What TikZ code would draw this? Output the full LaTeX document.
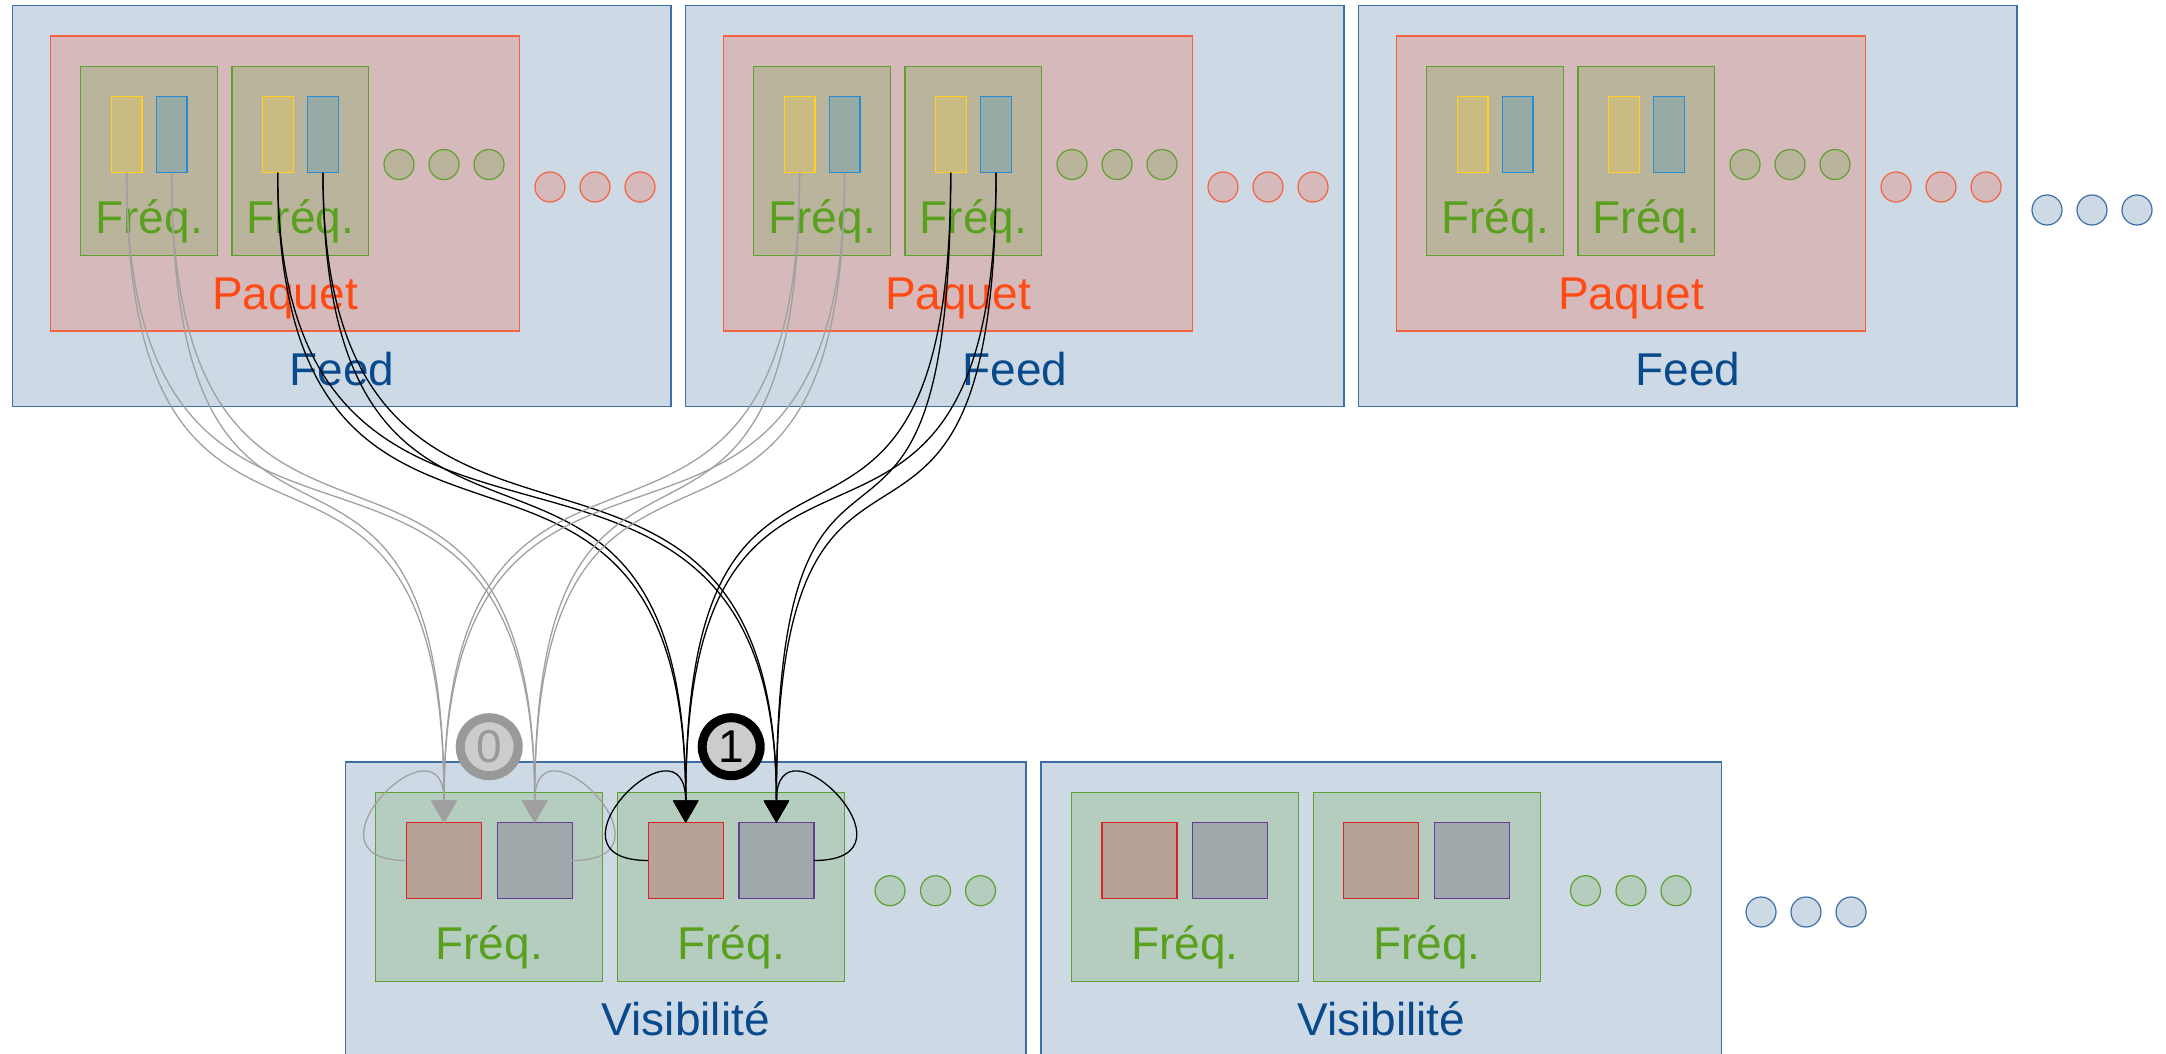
\documentclass[tikz,border=0pt]{standalone}
\usepackage{fontspec}
\setmainfont{Liberation Sans}
\usetikzlibrary{arrows.meta}

% palette
\definecolor{feedfill}{RGB}{205,218,230}
\definecolor{feedline}{RGB}{62,110,168}
\definecolor{feedtext}{RGB}{8,74,140}
\definecolor{paqfill}{RGB}{214,185,186}
\definecolor{paqline}{RGB}{244,98,64}
\definecolor{paqtext}{RGB}{255,74,20}
\definecolor{fqtopfill}{RGB}{187,180,156}
\definecolor{fqbotfill}{RGB}{180,205,190}
\definecolor{grnline}{RGB}{96,160,48}
\definecolor{grntext}{RGB}{88,160,30}
\definecolor{ybarfill}{RGB}{201,187,130}
\definecolor{ybarline}{RGB}{255,208,30}
\definecolor{bbarfill}{RGB}{150,170,166}
\definecolor{bbarline}{RGB}{40,140,208}
\definecolor{redfill}{RGB}{182,162,150}
\definecolor{redline}{RGB}{222,30,40}
\definecolor{purpfill}{RGB}{159,169,171}
\definecolor{purpline}{RGB}{100,62,150}
\definecolor{wiregray}{RGB}{160,160,160}
\definecolor{badgefill}{RGB}{204,204,204}
\definecolor{badgegray}{RGB}{153,153,153}

\newcommand\lblfont{\fontsize{46}{52}\selectfont}

\begin{document}
\begin{tikzpicture}[x=1pt,y=-1pt,
  shp/.style={rectangle,inner sep=0pt,outer sep=0pt},
  feedbox/.style={shp,draw=feedline,fill=feedfill,line width=1.5pt},
  paqbox/.style={shp,draw=paqline,fill=paqfill,line width=1.5pt},
  fqtop/.style={shp,draw=grnline,fill=fqtopfill,line width=1.2pt,minimum width=136.7pt,minimum height=189.4pt},
  fqbot/.style={shp,draw=grnline,fill=fqbotfill,line width=1.2pt,minimum width=226.8pt,minimum height=189pt},
  ybar/.style={shp,draw=ybarline,fill=ybarfill,line width=1.2pt,minimum width=30.8pt,minimum height=76.4pt},
  bbar/.style={shp,draw=bbarline,fill=bbarfill,line width=1.2pt,minimum width=30.8pt,minimum height=76.4pt},
  redsq/.style={shp,draw=redline,fill=redfill,line width=1.2pt,minimum width=75pt,minimum height=75.6pt},
  purpsq/.style={shp,draw=purpline,fill=purpfill,line width=1.2pt,minimum width=75pt,minimum height=75.6pt},
  dot/.style={circle,inner sep=0pt,minimum size=30pt,line width=1.2pt},
  grndotA/.style={dot,draw=grnline,fill=fqtopfill},
  grndotB/.style={dot,draw=grnline,fill=fqbotfill},
  reddot/.style={dot,draw=paqline,fill=paqfill},
  bluedot/.style={dot,draw=feedline,fill=feedfill},
  lbl/.style={inner sep=0pt,anchor=base,font=\lblfont},
  feedlbl/.style={lbl,text=feedtext},
  paqlbl/.style={lbl,text=paqtext},
  fqlbl/.style={lbl,text=grntext},
  tip/.style={-{Triangle[width=25pt,length=22pt]}},
  gwire/.style={draw=wiregray,line width=1.3pt,tip},
  kwire/.style={draw=black,line width=1.3pt,tip},
  badge/.style={circle,inner sep=0pt,minimum size=58pt,line width=9pt,fill=badgefill,font=\lblfont}
]
\useasboundingbox (0,0) rectangle (2166,1054);
\clip (0,0) rectangle (2166,1054);

% ---- feeds, packets and frequency blocks along the top row
\foreach \i in {0,1,2}{
  \pgfmathsetmacro\L{12.5+673*\i}
  \node[feedbox,minimum width=658.5pt,minimum height=400.8pt] (feed\i) at (\L+329.25,206.1) {};
  \node[paqbox,minimum width=469pt,minimum height=295pt] (paq\i) at (\L+272.5,183.5) {};
  \node[fqtop] (fqa\i) at (\L+136.65,161) {};
  \node[fqtop] (fqb\i) at (\L+287.85,161) {};
  \node[ybar] (ya\i) at (\L+114.1,134.5) {};
  \node[bbar] (ba\i) at (\L+159.1,134.5) {};
  \node[ybar] (yb\i) at (\L+265.2,134.5) {};
  \node[bbar] (bb\i) at (\L+310.5,134.5) {};
  \node[fqlbl] (fqalbl\i) at (\L+136.65,233) {Fréq.};
  \node[fqlbl] (fqblbl\i) at (\L+287.85,233) {Fréq.};
  \node[grndotA] (gd\i a) at (\L+386.5,164.5) {};
  \node[grndotA] (gd\i b) at (\L+431.5,164.5) {};
  \node[grndotA] (gd\i c) at (\L+476.5,164.5) {};
  \node[reddot] (rd\i a) at (\L+537.5,187) {};
  \node[reddot] (rd\i b) at (\L+582.5,187) {};
  \node[reddot] (rd\i c) at (\L+627.5,187) {};
  \node[paqlbl] (paqlbl\i) at (\L+272.5,309) {Paquet};
  \node[feedlbl] (feedlbl\i) at (\L+329.25,385) {Feed};
}
\node[bluedot] (tdot1) at (2047,210) {};
\node[bluedot] (tdot2) at (2092,210) {};
\node[bluedot] (tdot3) at (2137,210) {};

% ---- visibility blocks along the bottom row
\foreach \j in {0,1}{
  \pgfmathsetmacro\M{345.5+695.5*\j}
  \node[feedbox,minimum width=680.5pt,minimum height=300pt] (vis\j) at (\M+340.25,912) {};
  \node[fqbot] (vfa\j) at (\M+143.7,886.8) {};
  \node[fqbot] (vfb\j) at (\M+385.7,886.8) {};
  \node[redsq] (ra\j) at (\M+98.5,860.5) {};
  \node[purpsq] (pa\j) at (\M+189.2,860.5) {};
  \node[redsq] (rb\j) at (\M+340.2,860.5) {};
  \node[purpsq] (pb\j) at (\M+430.9,860.5) {};
  \node[fqlbl] (vfalbl\j) at (\M+143.7,959.3) {Fréq.};
  \node[fqlbl] (vfblbl\j) at (\M+385.7,959.3) {Fréq.};
  \node[grndotB] (vg\j a) at (\M+544.5,890.7) {};
  \node[grndotB] (vg\j b) at (\M+590,890.7) {};
  \node[grndotB] (vg\j c) at (\M+635,890.7) {};
  \node[feedlbl] (vislbl\j) at (\M+340.25,1035) {Visibilité};
}
\node[bluedot] (bdot1) at (1761,912) {};
\node[bluedot] (bdot2) at (1806,912) {};
\node[bluedot] (bdot3) at (1851,912) {};

% ---- self loops on the first visibility block
\draw[gwire] (ra0.west) .. controls +(-115,0) and +(0,-115) .. (ra0.north);
\draw[gwire] (pa0.east) .. controls +(115,0) and +(0,-115) .. (pa0.north);
\draw[kwire] (rb0.west) .. controls +(-115,0) and +(0,-115) .. (rb0.north);
\draw[kwire] (pb0.east) .. controls +(115,0) and +(0,-115) .. (pb0.north);

% ---- every bar of a frequency feeds both squares of the matching frequency
\foreach \i in {0,1}{
  \foreach \src in {y,b}{
    \foreach \dst in {r,p}{
      \draw[gwire] (\src a\i.south) .. controls +(0,500) and +(0,-500) .. (\dst a0.north);
      \draw[kwire] (\src b\i.south) .. controls +(0,500) and +(0,-500) .. (\dst b0.north);
    }
  }
}

% ---- frequency index badges
\node[badge,draw=badgegray,text=badgegray] (bdg0) at (489.2,746.7) {0};
\node[badge,draw=black,text=black] (bdg1) at (731.2,746.7) {1};
\end{tikzpicture}
\end{document}
